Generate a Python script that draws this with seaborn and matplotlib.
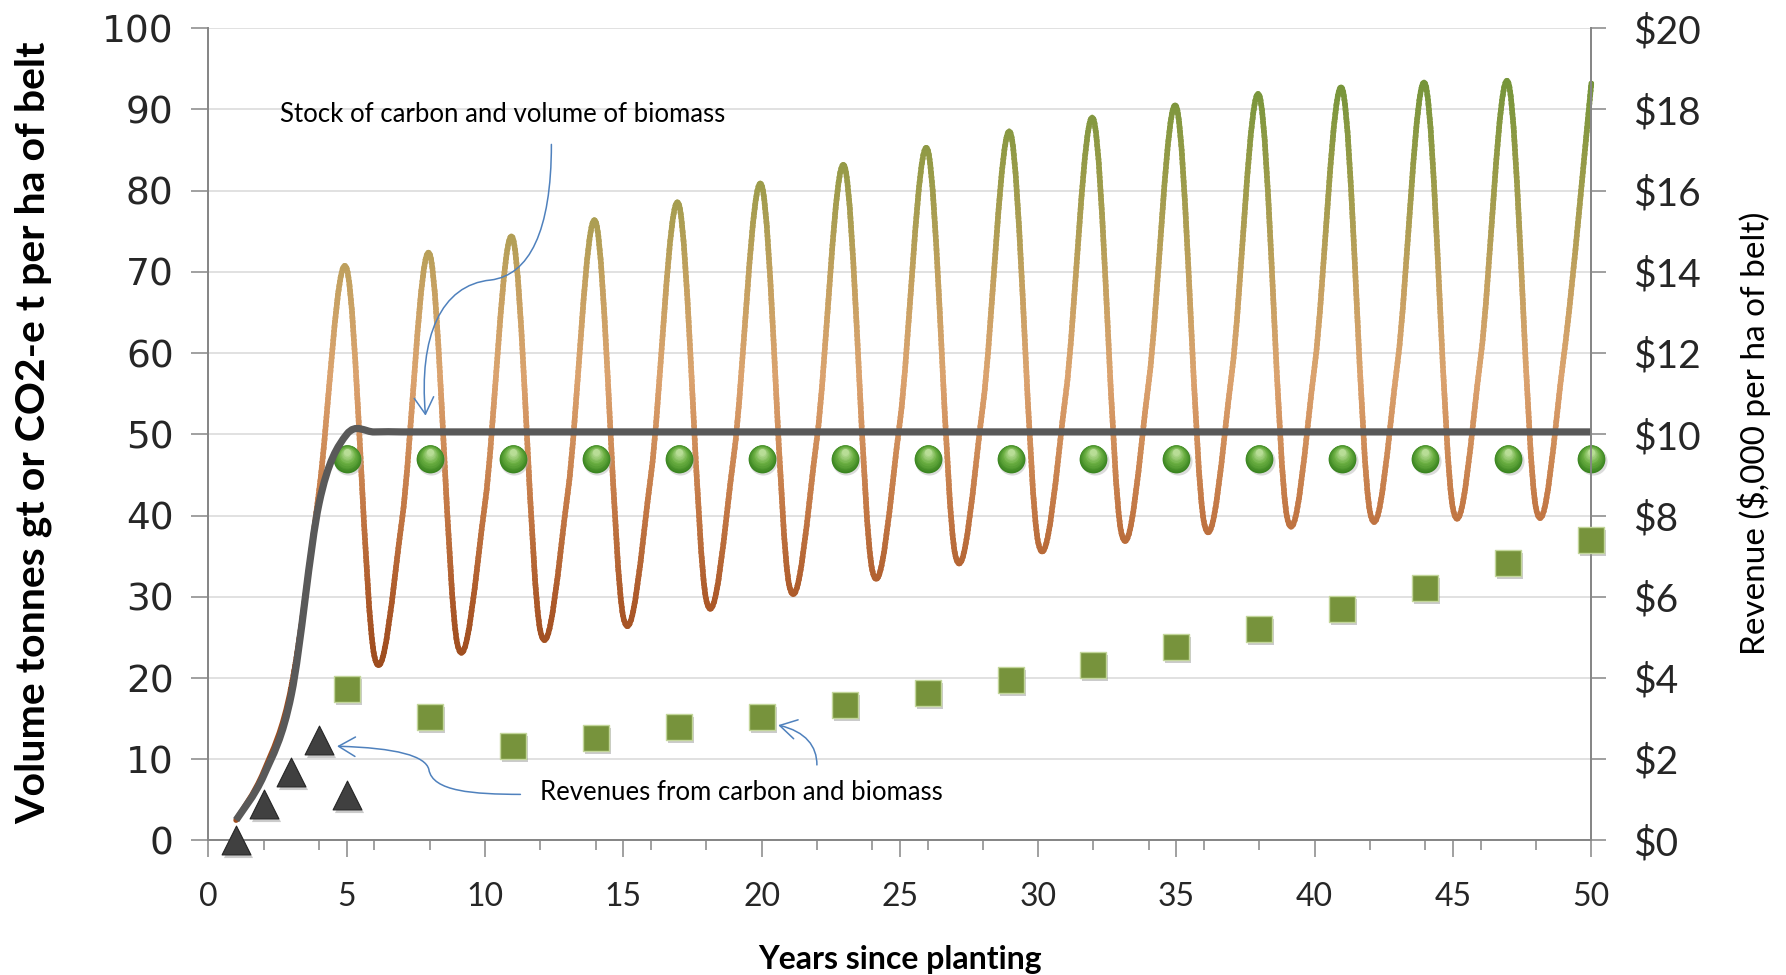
import numpy as np
import pandas as pd
import matplotlib
matplotlib.use("Agg")
import matplotlib.pyplot as plt
import seaborn as sns
from matplotlib.path import Path
from matplotlib.patches import PathPatch, FancyArrowPatch
from matplotlib.colors import LinearSegmentedColormap
from matplotlib.transforms import Bbox, TransformedBbox, offset_copy
from matplotlib.ticker import MultipleLocator, FixedLocator

# ---------------------------------------------------------------- data
years = list(range(1, 51))

# standing stock of carbon / biomass volume (t per ha of belt), harvested every 3 years
stock = [2.5, 8.5, 19.0, 43.0, 70.4, 22.7, 39.5, 72.2, 24.2, 41.5,
         74.2, 25.8, 43.0, 76.2, 27.5, 45.0, 78.4, 29.6, 47.5, 80.7,
         31.4, 49.5, 83.0, 33.3, 51.5, 85.1, 35.2, 53.5, 87.1, 36.7,
         55.0, 88.8, 38.0, 56.5, 90.3, 39.1, 57.5, 91.7, 39.8, 58.5,
         92.5, 40.4, 59.0, 93.1, 40.8, 59.5, 93.3, 40.9, 59.5, 93.2]

# long-term average carbon stock
average_stock = [2.5, 8.0, 18.0, 41.5, 50.0, 50.3, 50.3, 50.3, 50.3, 50.3,
                 50.3, 50.3, 50.3, 50.3, 50.3, 50.3, 50.3, 50.3, 50.3, 50.3,
                 50.3, 50.3, 50.3, 50.3, 50.3, 50.3, 50.3, 50.3, 50.3, 50.3,
                 50.3, 50.3, 50.3, 50.3, 50.3, 50.3, 50.3, 50.3, 50.3, 50.3,
                 50.3, 50.3, 50.3, 50.3, 50.3, 50.3, 50.3, 50.3, 50.3, 50.3]

# harvest years and harvested volume markers
harvest_years = [5, 8, 11, 14, 17, 20, 23, 26, 29, 32, 35, 38, 41, 44, 47, 50]
harvest_marker = [47.0, 47.0, 47.0, 47.0, 47.0, 47.0, 47.0, 47.0,
                  47.0, 47.0, 47.0, 47.0, 47.0, 47.0, 47.0, 47.0]

# revenue at each harvest ($,000 per ha of belt)
harvest_revenue = [3.74, 3.05, 2.33, 2.53, 2.80, 3.05, 3.33, 3.64,
                   3.96, 4.33, 4.76, 5.20, 5.70, 6.22, 6.82, 7.41]

# early carbon revenue ($,000 per ha of belt)
early_years = [1, 2, 3, 4, 5]
early_revenue = [0.0, 0.90, 1.69, 2.47, 1.11]

x_ticks = [0, 5, 10, 15, 20, 25, 30, 35, 40, 45, 50]
left_ticks = [0, 10, 20, 30, 40, 50, 60, 70, 80, 90, 100]
right_ticks = [0, 2, 4, 6, 8, 10, 12, 14, 16, 18, 20]
right_labels = ["$0", "$2", "$4", "$6", "$8", "$10", "$12", "$14", "$16", "$18", "$20"]

# ---------------------------------------------------------------- style
sns.set_theme(style="white")
plt.rcParams["font.family"] = ["Lato", "DejaVu Sans"]

GRID = "#d9d9d9"
SPINE = "#868686"
ARROW = "#4f81bd"


def smooth_path(xs, ys):
    """Cubic Bezier path through the points (Catmull-Rom style smoothing)."""
    pts = np.column_stack([xs, ys]).astype(float)
    n = len(pts)
    verts = [pts[0]]
    codes = [Path.MOVETO]
    for i in range(n - 1):
        p0 = pts[i - 1] if i > 0 else pts[i]
        p1, p2 = pts[i], pts[i + 1]
        p3 = pts[i + 2] if i + 2 < n else pts[i + 1]
        verts += [p1 + (p2 - p0) / 6.0, p2 - (p3 - p1) / 6.0, p2]
        codes += [Path.CURVE4] * 3
    return Path(verts, codes)


fig = plt.figure(figsize=(17.86, 9.75), dpi=100)
ax = fig.add_axes([0.1167, 0.138, 0.891 - 0.1167, 0.971 - 0.138])
ax2 = ax.twinx()

ax.set_xlim(0, 50)
ax.set_ylim(0, 100)
ax2.set_ylim(0, 20)

# gridlines
ax.yaxis.set_major_locator(FixedLocator(left_ticks))
ax.grid(axis="y", color=GRID, lw=1.1, zorder=0)
ax.grid(axis="x", visible=False)
ax2.grid(False)

# ---------------------------------------------------------------- stock curve with vertical colour gradient
stock_cmap = LinearSegmentedColormap.from_list(
    "stock",
    [(0.00, "#9c4b1d"), (0.12, "#ad5a2a"), (0.30, "#c67d4a"),
     (0.50, "#dba36f"), (0.66, "#c4a160"), (0.82, "#9e9c4b"), (1.00, "#76953a")])
stock_path = smooth_path(years, stock)
v_lo, v_hi = 18.0, 96.0
n_bands = 140
edges = np.linspace(v_lo, v_hi, n_bands + 1)
step = edges[1] - edges[0]
for k in range(n_bands):
    lo, hi = edges[k], edges[k + 1]
    colour = stock_cmap((0.5 * (lo + hi) - 21.0) / (93.5 - 21.0))
    band = PathPatch(stock_path, facecolor="none", edgecolor=colour, lw=4.0,
                     capstyle="round", joinstyle="round", zorder=2)
    ax.add_patch(band)
    band.set_clip_path(None)
    bottom = -5 if k == 0 else lo
    top = 110 if k == n_bands - 1 else hi + 0.6 * step
    band.set_clip_box(TransformedBbox(Bbox.from_extents(-2, bottom, 52, top), ax.transData))

# ---------------------------------------------------------------- average stock line
avg_patch = PathPatch(smooth_path(years, average_stock), facecolor="none",
                      edgecolor="#595959", lw=5.2, capstyle="butt",
                      joinstyle="round", zorder=4)
ax.add_patch(avg_patch)

# ---------------------------------------------------------------- harvest markers (shaded spheres)
harvest_df = pd.DataFrame({"year": harvest_years, "value": harvest_marker})
shadow = offset_copy(ax.transData, fig=fig, x=1.5, y=-2.5, units="dots")
ax.scatter(harvest_years, harvest_marker, s=410, color="#b0b0b0", alpha=0.45,
           linewidths=0, transform=shadow, zorder=3, clip_on=False)
sns.scatterplot(data=harvest_df, x="year", y="value", ax=ax, s=400,
                color="#3a8520", linewidth=0, zorder=3.1, clip_on=False, legend=False)
sphere_cmap = LinearSegmentedColormap.from_list("sphere", ["#3a8520", "#6cb043", "#b8dd96"])
n_layers = 10
for j in range(1, n_layers + 1):
    frac = j / n_layers
    lift = offset_copy(ax.transData, fig=fig, x=0, y=6.5 * frac, units="dots")
    ax.scatter(harvest_years, harvest_marker, s=400 * (1 - frac) ** 1.6 + 25,
               color=sphere_cmap(frac), linewidths=0, transform=lift,
               zorder=3.1 + 0.01 * j, clip_on=False)

# ---------------------------------------------------------------- revenue markers (right axis)
rev_df = pd.DataFrame({"year": harvest_years, "revenue": harvest_revenue})
early_df = pd.DataFrame({"year": early_years, "revenue": early_revenue})
shadow2 = offset_copy(ax2.transData, fig=fig, x=2.0, y=-3.0, units="dots")
ax2.scatter(harvest_years, harvest_revenue, s=340, marker="s", color="#8c8c8c",
            alpha=0.45, linewidths=0, transform=shadow2, zorder=5, clip_on=False)
sns.scatterplot(data=rev_df, x="year", y="revenue", ax=ax2, marker="s", s=330,
                color="#77933c", edgecolor="#c3d69b", linewidth=1.0, zorder=6,
                clip_on=False, legend=False)
ax2.scatter(early_years, early_revenue, s=440, marker="^", color="#8c8c8c",
            alpha=0.45, linewidths=0, transform=shadow2, zorder=5, clip_on=False)
sns.scatterplot(data=early_df, x="year", y="revenue", ax=ax2, marker="^", s=430,
                color="#404040", edgecolor="#262626", linewidth=0.8, zorder=6,
                clip_on=False, legend=False)

# ---------------------------------------------------------------- axes, ticks, labels
for a in (ax, ax2):
    a.spines["top"].set_visible(False)
    for side in ("left", "right", "bottom"):
        a.spines[side].set_color(SPINE)
        a.spines[side].set_linewidth(1.3)

ax.xaxis.set_major_locator(FixedLocator(x_ticks))
ax.xaxis.set_minor_locator(MultipleLocator(2))
ax.tick_params(axis="x", which="major", direction="out", length=12, width=1.1,
               color=SPINE, pad=18, labelsize=23, bottom=True)
ax.tick_params(axis="x", which="minor", direction="out", length=7.5, width=1.1,
               color=SPINE, bottom=True)
ax.tick_params(axis="y", which="major", direction="out", length=12, width=1.1,
               color=SPINE, pad=13, labelsize=27, left=True)
for lbl in ax.get_yticklabels():
    lbl.set_fontfamily("DejaVu Sans")

ax2.yaxis.set_major_locator(FixedLocator(right_ticks))
ax2.set_yticklabels(right_labels)
ax2.tick_params(axis="y", which="major", direction="out", length=11, width=1.1,
                color=SPINE, pad=19, labelsize=28, right=True)

ax.set_xlabel("")
ax.set_ylabel("")
ax2.set_xlabel("")
ax2.set_ylabel("")

fig.text(0.019, 0.556, "Volume tonnes gt or CO2-e t per ha of belt", rotation=90,
         ha="center", va="center", fontsize=29.5, fontweight="bold", color="black")
fig.text(0.982, 0.556, "Revenue ($,000 per ha of belt)", rotation=90,
         ha="center", va="center", fontsize=24, color="black")
fig.text(0.504, 0.016, "Years since planting", ha="center", va="center",
         fontsize=23, fontweight="bold", color="black")

# ---------------------------------------------------------------- callouts
ax.text(2.57, 89.4, "Stock of carbon and volume of biomass", fontsize=18.5,
        ha="left", va="center", color="black", zorder=8)
ax.text(12.0, 5.9, "Revenues from carbon and biomass", fontsize=18.5,
        ha="left", va="center", color="black", zorder=8)

callout_paths = [
    Path([(12.4, 85.7), (12.4, 75.0), (11.6, 69.6), (10.2, 69.0),
          (8.4, 68.4), (7.6, 62.0), (7.85, 52.3)],
         [Path.MOVETO] + [Path.CURVE4] * 6),
    Path([(11.28, 5.67), (9.6, 5.7), (8.1, 6.0), (7.97, 8.74),
          (7.85, 10.4), (6.8, 11.4), (4.65, 11.6)],
         [Path.MOVETO] + [Path.CURVE4] * 6),
    Path([(22.0, 9.3), (22.0, 11.6), (21.6, 13.4), (20.6, 14.2)],
         [Path.MOVETO] + [Path.CURVE4] * 3),
]
for cp in callout_paths:
    arr = FancyArrowPatch(path=cp, arrowstyle="->,head_length=0.6,head_width=0.35",
                          mutation_scale=20, color=ARROW, lw=1.1,
                          transform=ax.transData, zorder=9)
    arr.set_clip_on(False)
    ax.add_patch(arr)

fig.savefig("out.png", dpi=100, facecolor="white")
